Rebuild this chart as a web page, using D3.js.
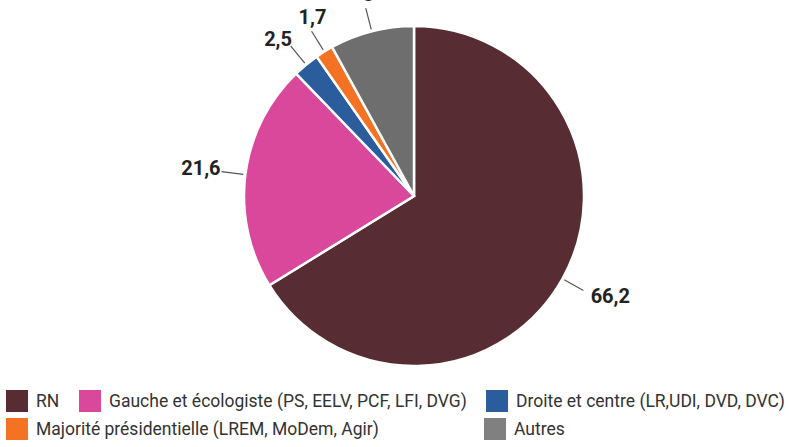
<!doctype html>
<html>
  <head>
    <meta charset="utf-8">
    <title>pie</title>
    <script src="https://d3js.org/d3.v7.min.js"></script>
    <style type="text/css">
      body { margin: 0; background-color: #ffffff; }
      svg { display: block; }
    </style>
  </head>
  <body>
    <script>
      // data
      var categories = ["RN", "Gauche et écologiste (PS, EELV, PCF, LFI, DVG)", "Droite et centre (LR,UDI, DVD, DVC)", "Majorité présidentielle (LREM, MoDem, Agir)", "Autres"];
      var values = [66.2, 21.6, 2.5, 1.7, 8];
      var labels = ["66,2", "21,6", "2,5", "1,7", "8"];
      var colors = ["#582c33", "#d9489b", "#2b5c9c", "#f37223", "#6e6e6e"];
      var legendColors = ["#582c33", "#d9489b", "#2b5c9c", "#f37223", "#808080"];

      var w = 789, h = 447;
      var cx = 414, cy = 196, r = 170;

      var svg = d3.select("body").append("svg")
        .attr("width", w)
        .attr("height", h);

      var pie = d3.pie().sort(null).value(function(d) { return d; });
      var arcs = pie(values);

      var arc = d3.arc().innerRadius(0).outerRadius(r);
      var lineIn = d3.arc().innerRadius(172).outerRadius(172);
      var lineOut = d3.arc().innerRadius(194).outerRadius(194);
      var labelArc = d3.arc().innerRadius(200).outerRadius(200);

      var g = svg.append("g").attr("transform", "translate(" + cx + "," + cy + ")");

      g.selectAll("path.slice")
        .data(arcs)
        .enter()
        .append("path")
        .attr("class", "slice")
        .attr("d", arc)
        .style("fill", function(d, i) { return colors[i]; })
        .style("stroke", "#ffffff")
        .style("stroke-width", 2.5);

      // leader lines
      g.selectAll("line.leader")
        .data(arcs)
        .enter()
        .append("line")
        .attr("class", "leader")
        .attr("x1", function(d) { return lineIn.centroid(d)[0]; })
        .attr("y1", function(d) { return lineIn.centroid(d)[1]; })
        .attr("x2", function(d) { return lineOut.centroid(d)[0]; })
        .attr("y2", function(d) { return lineOut.centroid(d)[1]; })
        .style("stroke", "#555555")
        .style("stroke-width", 1.2);

      // value labels
      g.selectAll("text.val")
        .data(arcs)
        .enter()
        .append("text")
        .attr("class", "val")
        .each(function(d, i) {
          var a = (d.startAngle + d.endAngle) / 2;
          var p = labelArc.centroid(d);
          var s = Math.sin(a);
          var t = d3.select(this);
          if (Math.abs(s) < 0.6 && Math.cos(a) > 0) {
            // near the top
            t.attr("x", p[0] + 4).attr("y", p[1] - 7).attr("text-anchor", "middle");
          } else if (s < 0) {
            t.attr("x", p[0] + 5).attr("y", p[1] - 1).attr("text-anchor", "end");
          } else {
            t.attr("x", p[0] + 2).attr("y", p[1] + 4).attr("text-anchor", "start");
          }
        })
        .attr("dominant-baseline", "middle")
        .style("font-family", "Roboto, sans-serif")
        .style("font-weight", "bold")
        .style("font-size", "20px")
        .style("fill", "#222222")
        .text(function(d, i) { return labels[i]; });

      // legend
      var legendPos = [[6, 390], [79, 390], [486, 390], [6, 418], [484, 418]];
      var leg = svg.selectAll("g.legend")
        .data(categories)
        .enter()
        .append("g")
        .attr("class", "legend")
        .attr("transform", function(d, i) { return "translate(" + legendPos[i][0] + "," + legendPos[i][1] + ")"; });

      leg.append("rect")
        .attr("width", 22)
        .attr("height", 22)
        .style("fill", function(d, i) { return legendColors[i]; });

      leg.append("text")
        .attr("x", 30)
        .attr("y", 12)
        .attr("dominant-baseline", "middle")
        .style("font-family", "Roboto, sans-serif")
        .style("font-size", "17.5px")
        .style("fill", "#333333")
        .text(function(d) { return d; });
    </script>
  </body>
</html>
